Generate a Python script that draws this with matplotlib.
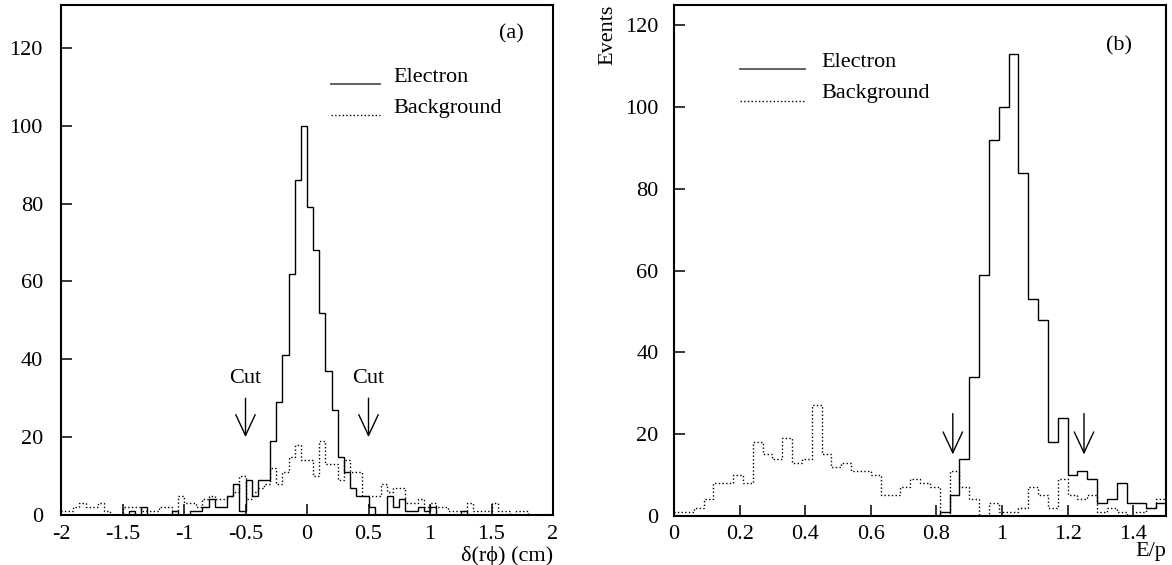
import numpy as np
import matplotlib
matplotlib.use('Agg')
import matplotlib.pyplot as plt

plt.rcParams['font.family'] = ['Liberation Serif', 'DejaVu Serif']
plt.rcParams['font.size'] = 16

# (a) track - cluster distance, 80 bins of 0.05 cm from -2 to 2
drphi_edges = np.linspace(-2, 2, 81)
drphi_electron = [0, 0, 0, 0, 0, 0, 0, 0, 0, 0,
                  0, 1, 0, 2, 0, 0, 0, 0, 1, 0,
                  0, 1, 1, 2, 4, 2, 2, 5, 8, 1,
                  9, 5, 9, 9, 19, 29, 41, 62, 86, 100,
                  79, 68, 52, 37, 27, 15, 11, 7, 5, 5,
                  2, 0, 0, 5, 2, 4, 1, 1, 2, 1,
                  2, 0, 0, 0, 0, 1, 0, 0, 0, 0,
                  0, 0, 0, 0, 0, 0, 0, 0, 0, 0]
drphi_background = [1, 1, 2, 3, 2, 2, 3, 1, 0, 0,
                    2, 2, 2, 1, 1, 1, 2, 2, 1, 5,
                    3, 3, 2, 4, 5, 4, 4, 5, 6, 10,
                    4, 6, 7, 8, 12, 8, 11, 15, 18, 14,
                    14, 10, 19, 13, 13, 9, 14, 11, 11, 5,
                    5, 5, 8, 6, 7, 7, 3, 3, 4, 2,
                    3, 2, 2, 1, 1, 1, 3, 1, 1, 1,
                    3, 1, 1, 0, 1, 1, 0, 0, 0, 0]
drphi_cuts = [-0.5, 0.5]

# (b) E/p, 50 bins of 0.03 from 0 to 1.5
ep_edges = np.linspace(0, 1.5, 51)
ep_electron = [0, 0, 0, 0, 0, 0, 0, 0, 0, 0,
               0, 0, 0, 0, 0, 0, 0, 0, 0, 0,
               0, 0, 0, 0, 0, 0, 0, 1, 5, 14,
               34, 59, 92, 100, 113, 84, 53, 48, 18, 24,
               10, 11, 9, 3, 4, 8, 3, 3, 2, 3]
ep_background = [1, 1, 2, 4, 8, 8, 10, 8, 18, 15,
                 14, 19, 13, 14, 27, 15, 12, 13, 11, 11,
                 10, 5, 5, 7, 9, 8, 7, 0, 11, 7,
                 4, 0, 3, 1, 1, 2, 7, 5, 2, 9,
                 5, 4, 5, 1, 2, 1, 0, 1, 2, 4]
ep_cuts = [0.85, 1.25]

W, H = 1172, 565
fig = plt.figure(figsize=(W / 100, H / 100), dpi=100)
ax1 = fig.add_axes([61 / W, 50 / H, 492 / W, 510 / H])
ax2 = fig.add_axes([674 / W, 49.3 / H, 492 / W, 510.7 / H])


def style_axes(ax, xlim, ylim, xticks, xlabels, ypad):
    ax.set_xlim(*xlim)
    ax.set_ylim(*ylim)
    ax.set_xticks(xticks)
    ax.set_xticklabels(xlabels)
    ax.set_yticks(range(0, 121, 20))
    for s in ax.spines.values():
        s.set_linewidth(1.5)
    ax.tick_params(direction='in', length=8, width=1.1, labelsize=16)
    ax.tick_params(axis='x', pad=7)
    ax.tick_params(axis='y', pad=ypad)


def legend_entries(ax, x0, x1, xt, y_el, y_bg):
    ax.plot([x0, x1], [y_el - 0.013, y_el - 0.013], transform=ax.transAxes,
            color='#555555', lw=1.3)
    ax.plot([x0, x1], [y_bg - 0.014, y_bg - 0.014], transform=ax.transAxes,
            color='black', lw=1.0, ls=':')
    ax.text(xt, y_el, 'Electron', transform=ax.transAxes, va='center', ha='left')
    ax.text(xt, y_bg, 'Background', transform=ax.transAxes, va='center', ha='left')


def cut_arrow(ax, x, top, tip):
    ax.annotate('', xy=(x, tip), xytext=(x, top),
                arrowprops=dict(arrowstyle='->,head_length=1.5,head_width=0.7',
                                lw=1.0, color='black', shrinkA=0, shrinkB=0,
                                mutation_scale=10))


# panel (a)
ax1.stairs(drphi_background, drphi_edges, color='black', lw=1.0, ls=':')
ax1.stairs(drphi_electron, drphi_edges, color='black', lw=1.0)
style_axes(ax1, (-2, 2), (0, 131), [-2, -1.5, -1, -0.5, 0, 0.5, 1, 1.5, 2],
           ['-2', '-1.5', '-1', '-0.5', '0', '0.5', '1', '1.5', '2'], 13)
legend_entries(ax1, 0.549, 0.649, 0.675, 0.858, 0.798)
ax1.text(0.915, 0.943, '(a)', transform=ax1.transAxes, ha='center', va='center')
for c in drphi_cuts:
    ax1.text(c, 35, 'Cut', ha='center', va='center')
    cut_arrow(ax1, c, 30, 20)
ax1.text(1.0, -46 / 510, '\u03b4(r\u03d5) (cm)', transform=ax1.transAxes,
         ha='right', va='baseline')

# panel (b)
ax2.stairs(ep_background, ep_edges, color='black', lw=1.0, ls=':')
ax2.stairs(ep_electron, ep_edges, color='black', lw=1.0)
style_axes(ax2, (0, 1.5), (0, 125), [0, 0.2, 0.4, 0.6, 0.8, 1, 1.2, 1.4],
           ['0', '0.2', '0.4', '0.6', '0.8', '1', '1.2', '1.4'], 11)
legend_entries(ax2, 0.134, 0.266, 0.300, 0.888, 0.826)
ax2.text(0.905, 0.920, '(b)', transform=ax2.transAxes, ha='center', va='center')
for c in ep_cuts:
    cut_arrow(ax2, c, 25, 15)
ax2.text(1.0, -40 / 510.7, 'E/p', transform=ax2.transAxes, ha='right', va='baseline')
ax2.text(-57 / 492, 1.0, 'Events', transform=ax2.transAxes, rotation=90,
         ha='right', va='top')

fig.savefig('out.png', dpi=100)
